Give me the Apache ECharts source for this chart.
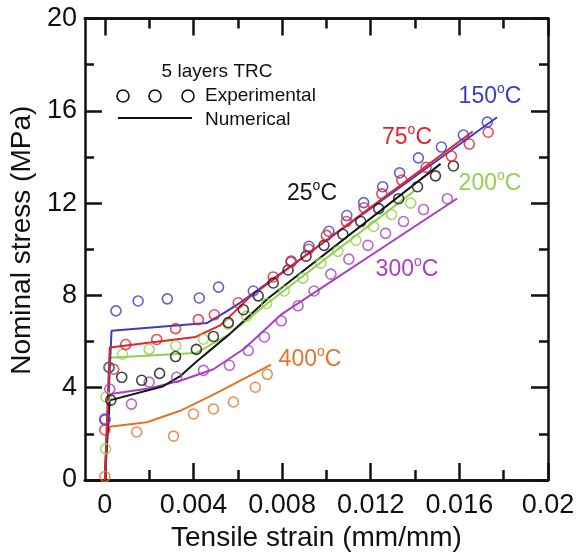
<!DOCTYPE html>
<html>
<head>
<meta charset="utf-8">
<script src="https://cdn.jsdelivr.net/npm/echarts@6/dist/echarts.min.js"></script>
<style>html,body{margin:0;padding:0;background:#fff}#c{width:579px;height:557px}</style>
</head>
<body>
<div id="c"></div>
<script>
// ---- tick values / labels ----
const xMajor = [0, 0.004, 0.008, 0.012, 0.016, 0.02];
const xMinor = [0.002, 0.006, 0.010, 0.014, 0.018];
const xTickLabels = ['0', '0.004', '0.008', '0.012', '0.016', '0.02'];

// ---- experimental data (strain, stress) ----
const exp25 = [[0.00027,3.46],[0.00076,4.45],[0.00166,4.32],[0.00247,4.62],[0.00319,5.35],[0.00413,5.66],[0.0049,6.22],[0.00557,6.82],[0.00625,7.38],[0.00692,7.98],[0.0076,8.54],[0.00827,9.1],[0.00908,9.7],[0.00989,10.17],[0.01074,10.65],[0.01155,11.2],[0.01236,11.76],[0.01326,12.19],[0.01411,12.71],[0.01492,13.18],[0.01573,13.61]];
const exp75 = [[0,2.17],[0.0004,4.8],[0.00094,5.87],[0.00234,6.09],[0.00319,6.56],[0.00422,6.95],[0.00494,7.16],[0.00602,7.68],[0.0076,8.8],[0.0084,9.44],[0.0092,10.0],[0.0100,10.6],[0.0109,11.2],[0.0117,11.8],[0.0125,12.4],[0.0134,13.0],[0.0145,13.55],[0.01564,14.04],[0.01645,14.56],[0.0173,15.07]];
const exp150 = [[0,2.6],[0.00018,4.88],[0.0005,7.33],[0.0015,7.76],[0.00282,7.85],[0.00426,7.89],[0.00513,8.36],[0.0067,8.19],[0.00841,9.49],[0.00921,10.13],[0.01011,10.78],[0.01092,11.46],[0.01168,12.02],[0.01254,12.71],[0.0133,13.31],[0.01415,13.96],[0.01519,14.43],[0.01618,14.95],[0.01726,15.51]];
const exp200 = [[0.00003,1.35],[0.00005,3.6],[0.00022,4.88],[0.0008,5.45],[0.002,5.66],[0.0032,5.82],[0.00445,6.1],[0.00557,6.75],[0.0064,7.1],[0.0073,7.65],[0.0081,8.19],[0.00894,8.75],[0.00975,9.4],[0.01052,9.91],[0.01133,10.39],[0.01213,10.99],[0.01294,11.5],[0.0138,12.0]];
const exp300 = [[0,2.65],[0.00022,3.94],[0.0012,3.29],[0.002,4.24],[0.00324,4.45],[0.00445,4.75],[0.00562,4.97],[0.00647,5.61],[0.0072,6.2],[0.00796,6.9],[0.00872,7.55],[0.00944,8.19],[0.0102,8.92],[0.01101,9.57],[0.01187,10.17],[0.01267,10.69],[0.01348,11.2],[0.01438,11.72],[0.01546,12.19]];
const exp400 = [[0,0.15],[0.00144,2.08],[0.0031,1.9],[0.004,2.86],[0.0049,3.08],[0.0058,3.38],[0.00679,4.02],[0.00733,4.58]];

// ---- numerical curves ----
const num25 = [[0,0],[0.00022,3.45],[0.0026,4.05],[0.0034,4.5],[0.0041,5.1],[0.0056,6.3],[0.0074,7.9],[0.01515,13.7]];
const num75 = [[0,0],[0.00022,5.74],[0.0041,6.2],[0.0052,6.7],[0.0059,7.33],[0.0065,7.9],[0.0166,15.1]];
const num150 = [[0,0],[0.0003,6.47],[0.0046,6.8],[0.0054,7.25],[0.0061,7.68],[0.0177,15.72]];
const num200 = [[0,0],[0.0002,5.3],[0.0041,5.5],[0.0056,6.3],[0.0074,7.7],[0.01398,12.54]];
const num300 = [[0,0],[0.00018,3.72],[0.0019,3.95],[0.0034,4.3],[0.0049,4.8],[0.0063,5.7],[0.008,7.2],[0.0159,12.2]];
const num400 = [[0,0],[0.0001,2.3],[0.0019,2.5],[0.0034,3.0],[0.0049,3.7],[0.0075,5.0]];

const temps = ['25', '75', '150', '200', '300', '400'];
const colors = {'25':'#151515','75':'#e4222c','150':'#3c3cc4','200':'#8fd24e','300':'#aa3fbf','400':'#e27428'};
const expData = {'25':exp25,'75':exp75,'150':exp150,'200':exp200,'300':exp300,'400':exp400};
const numData = {'25':num25,'75':num75,'150':num150,'200':num200,'300':num300,'400':num400};

const FONT = "'Liberation Sans', Arial, Helvetica, sans-serif";
const INK = '#111';

const chart = echarts.init(document.getElementById('c'), null, {renderer: 'canvas'});

function xAxisDef(pos, values, len, withLabel) {
  return {
    type: 'value', min: -0.0009, max: 0.02, position: pos,
    axisLine: {show: true, onZero: false, lineStyle: {color: INK, width: 2.5}},
    axisTick: {show: true, inside: true, length: len, customValues: values, lineStyle: {color: INK, width: 2.5}},
    axisLabel: withLabel ? {
      show: true, customValues: values, fontSize: 27, fontFamily: FONT, color: INK, margin: 12,
      formatter: function (v) { const i = xMajor.findIndex(t => Math.abs(t - v) < 1e-9); return i >= 0 ? xTickLabels[i] : ''; }
    } : {show: false},
    splitLine: {show: false},
    name: withLabel ? 'Tensile strain (mm/mm)' : '',
    nameLocation: 'middle', nameGap: 44,
    nameTextStyle: {fontSize: 28, fontFamily: FONT, color: INK}
  };
}
function yAxisDef(pos, withLabel) {
  return {
    type: 'value', min: 0, max: 20, interval: 4, position: pos,
    axisLine: {show: true, onZero: false, lineStyle: {color: INK, width: 2.5}},
    axisTick: {show: true, inside: true, length: 17, lineStyle: {color: INK, width: 2.5}},
    minorTick: {show: true, splitNumber: 2, length: 9, lineStyle: {color: INK, width: 2.5}},
    axisLabel: withLabel ? {show: true, fontSize: 27, fontFamily: FONT, color: INK, margin: 8} : {show: false},
    splitLine: {show: false}, minorSplitLine: {show: false},
    name: withLabel ? 'Nominal stress (MPa)' : '',
    nameLocation: 'middle', nameGap: 46, nameRotate: 90,
    nameTextStyle: {fontSize: 28, fontFamily: FONT, color: INK, padding: [0, 0, 0, 18]}
  };
}

const series = [];
['400','300','200','25','150','75'].forEach(t => {
  series.push({
    type: 'line', name: t + ' num', data: numData[t], xAxisIndex: 0, yAxisIndex: 0,
    showSymbol: false, symbol: 'none', lineStyle: {color: colors[t], width: 2}, z: 3
  });
});
['400','300','200','25','150','75'].forEach(t => {
  series.push({
    type: 'scatter', name: t + ' exp', data: expData[t], xAxisIndex: 0, yAxisIndex: 0,
    symbol: 'circle', symbolSize: 10,
    itemStyle: {color: 'rgba(0,0,0,0)', borderColor: colors[t], borderWidth: 1.6}, z: 4
  });
});

function tempLabel(t, x, y) {
  const c = colors[t];
  return {
    type: 'text', x: x, y: y, z: 10,
    style: {
      text: '{a|' + t + '}{s|o}{a|C}',
      align: 'center', verticalAlign: 'middle', fill: c,
      rich: {
        a: {fontSize: 23, fontFamily: FONT, fill: c, lineHeight: 30},
        s: {fontSize: 14, fontFamily: FONT, fill: c, lineHeight: 14, verticalAlign: 'top'}
      }
    }
  };
}

const graphic = [
  {type: 'text', x: 217, y: 72, z: 10, style: {text: '5 layers TRC', fontSize: 19, fontFamily: FONT, fill: INK, align: 'center', verticalAlign: 'middle'}},
  {type: 'circle', shape: {cx: 123, cy: 96, r: 6}, z: 10, style: {fill: 'none', stroke: INK, lineWidth: 1.6}},
  {type: 'circle', shape: {cx: 155, cy: 96, r: 6}, z: 10, style: {fill: 'none', stroke: INK, lineWidth: 1.6}},
  {type: 'circle', shape: {cx: 188, cy: 96, r: 6}, z: 10, style: {fill: 'none', stroke: INK, lineWidth: 1.6}},
  {type: 'text', x: 205, y: 96, z: 10, style: {text: 'Experimental', fontSize: 19, fontFamily: FONT, fill: INK, align: 'left', verticalAlign: 'middle'}},
  {type: 'line', shape: {x1: 118, y1: 118, x2: 192, y2: 118}, z: 10, style: {stroke: INK, lineWidth: 2}},
  {type: 'text', x: 205, y: 120, z: 10, style: {text: 'Numerical', fontSize: 19, fontFamily: FONT, fill: INK, align: 'left', verticalAlign: 'middle'}},
  tempLabel('150', 490, 97),
  tempLabel('75', 407, 138),
  tempLabel('25', 312, 194),
  tempLabel('200', 490, 184),
  tempLabel('300', 407, 270),
  tempLabel('400', 310, 360)
];

chart.setOption({
  animation: false,
  backgroundColor: '#fff',
  grid: {left: 83, right: 31, top: 18.5, bottom: 73.5, containLabel: false},
  xAxis: [
    xAxisDef('bottom', xMajor, 17, true),
    xAxisDef('bottom', xMinor, 10, false),
    xAxisDef('top', xMajor, 17, false),
    xAxisDef('top', xMinor, 10, false)
  ],
  yAxis: [yAxisDef('left', true), yAxisDef('right', false)],
  series: series,
  graphic: graphic
});
</script>
</body>
</html>
